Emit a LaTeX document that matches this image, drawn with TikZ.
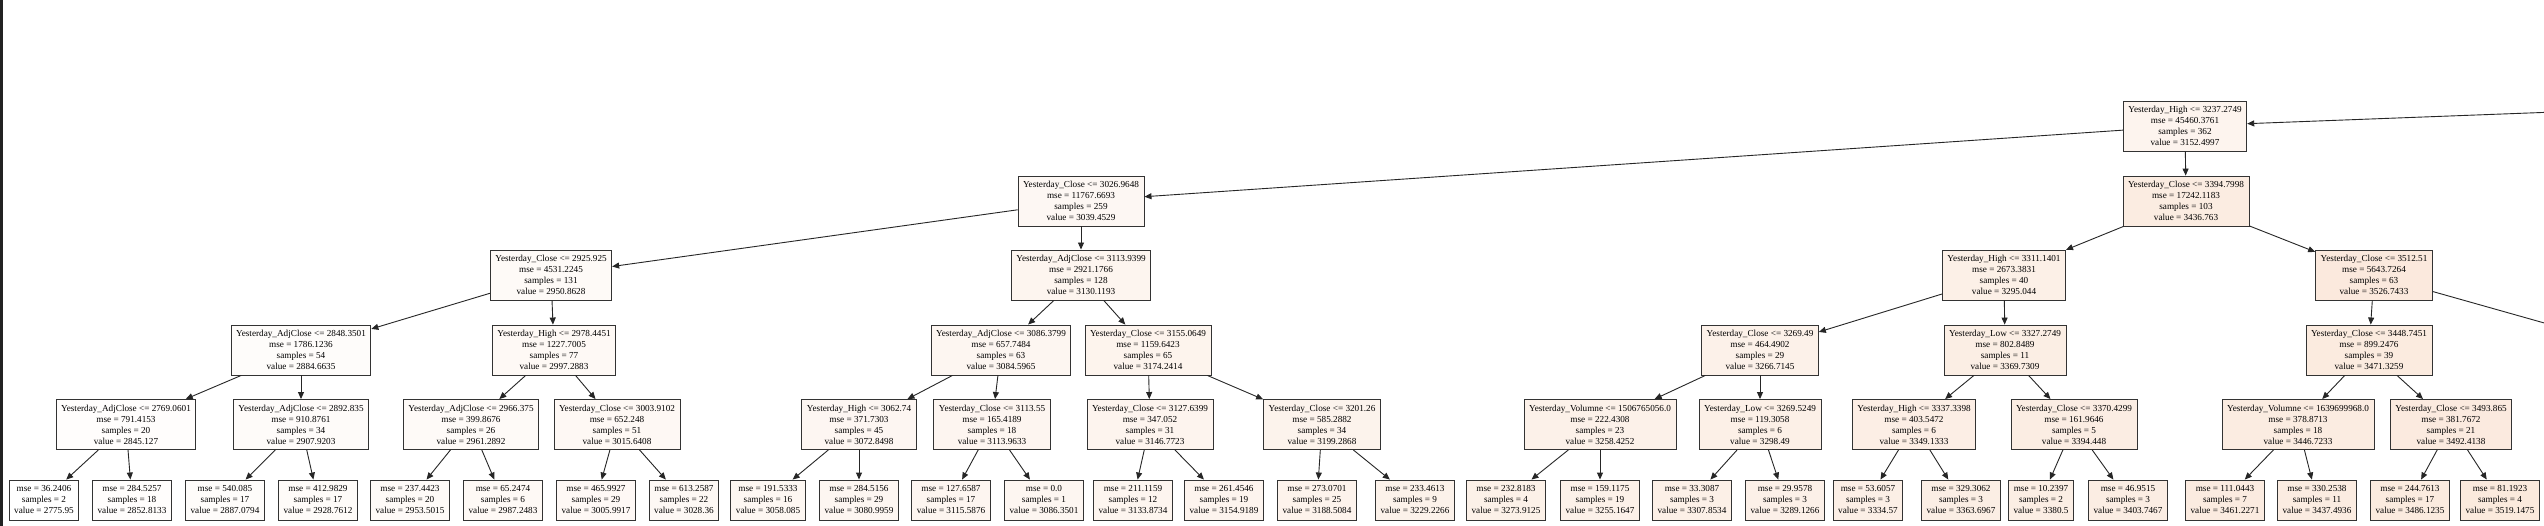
\documentclass[tikz,border=0pt]{standalone}
\usepackage{fontspec}
\newfontfamily\tnfam{Liberation Serif}
\usetikzlibrary{arrows.meta}
\definecolor{ob}{RGB}{229,129,57}
\definecolor{barcol}{RGB}{34,34,34}
\newcommand\dnode[7]{\node[tn,val=#7] (#1) at (#2,#3) {#4\\mse = #5\\samples = #6\\value = #7};}
\newcommand\lnode[5]{\node[lf,val=#5] (#1) at (#2,500) {mse = #3\\samples = #4\\value = #5};}
\tikzset{
  tn/.style={draw=black!80, line width=0.9pt, rectangle, align=center,
    inner xsep=5pt, inner ysep=0pt, minimum height=50pt,
    font=\tnfam\fontsize{9.2}{11}\selectfont},
  lf/.style={tn, minimum height=40pt},
  val/.code={\pgfmathsetmacro\fpct{max(0,(#1-2775.95)/43.7)}%
    \edef\tmpval{\noexpand\pgfkeysalso{fill=ob!\fpct!white}}\tmpval},
  edge/.style={draw=black!85, line width=0.9pt, -{Triangle[length=7pt,width=6pt]}}
}
\begin{document}
\begin{tikzpicture}[x=1pt,y=-1pt]
\useasboundingbox (0,0) rectangle (2544,526);
\fill[white] (0,0) rectangle (2544,526);
\clip (0,0) rectangle (2544,526);
\fill[barcol] (0,0) rectangle (2.5,526);
% internal nodes
\dnode{n0}{2185}{126}{Yesterday\_High <= 3237.2749}{45460.3761}{362}{3152.4997}
\dnode{n1}{1081}{201}{Yesterday\_Close <= 3026.9648}{11767.6693}{259}{3039.4529}
\dnode{n2}{2186}{201}{Yesterday\_Close <= 3394.7998}{17242.1183}{103}{3436.763}
\dnode{n3}{551}{275}{Yesterday\_Close <= 2925.925}{4531.2245}{131}{2950.8628}
\dnode{n4}{1081}{275}{Yesterday\_AdjClose <= 3113.9399}{2921.1766}{128}{3130.1193}
\dnode{n5}{2004}{275}{Yesterday\_High <= 3311.1401}{2673.3831}{40}{3295.044}
\dnode{n6}{2374}{275}{Yesterday\_Close <= 3512.51}{5643.7264}{63}{3526.7433}
\dnode{n7}{301}{350}{Yesterday\_AdjClose <= 2848.3501}{1786.1236}{54}{2884.6635}
\dnode{n8}{554}{350}{Yesterday\_High <= 2978.4451}{1227.7005}{77}{2997.2883}
\dnode{n9}{1001}{350}{Yesterday\_AdjClose <= 3086.3799}{657.7484}{63}{3084.5965}
\dnode{n10}{1148}{350}{Yesterday\_Close <= 3155.0649}{1159.6423}{65}{3174.2414}
\dnode{n11}{1760}{350}{Yesterday\_Close <= 3269.49}{464.4902}{29}{3266.7145}
\dnode{n12}{2005}{350}{Yesterday\_Low <= 3327.2749}{802.8489}{11}{3369.7309}
\dnode{n13}{2369}{350}{Yesterday\_Close <= 3448.7451}{899.2476}{39}{3471.3259}
\dnode{n14}{126}{424.5}{Yesterday\_AdjClose <= 2769.0601}{791.4153}{20}{2845.127}
\dnode{n15}{301}{424.5}{Yesterday\_AdjClose <= 2892.835}{910.8761}{34}{2907.9203}
\dnode{n16}{471}{424.5}{Yesterday\_AdjClose <= 2966.375}{399.8676}{26}{2961.2892}
\dnode{n17}{617}{424.5}{Yesterday\_Close <= 3003.9102}{652.248}{51}{3015.6408}
\dnode{n18}{859}{424.5}{Yesterday\_High <= 3062.74}{371.7303}{45}{3072.8498}
\dnode{n19}{992}{424.5}{Yesterday\_Close <= 3113.55}{165.4189}{18}{3113.9633}
\dnode{n20}{1150}{424.5}{Yesterday\_Close <= 3127.6399}{347.052}{31}{3146.7723}
\dnode{n21}{1322}{424.5}{Yesterday\_Close <= 3201.26}{585.2882}{34}{3199.2868}
\dnode{n22}{1600}{424.5}{Yesterday\_Volumne <= 1506765056.0}{222.4308}{23}{3258.4252}
\dnode{n23}{1760}{424.5}{Yesterday\_Low <= 3269.5249}{119.3058}{6}{3298.49}
\dnode{n24}{1914}{424.5}{Yesterday\_High <= 3337.3398}{403.5472}{6}{3349.1333}
\dnode{n25}{2074}{424.5}{Yesterday\_Close <= 3370.4299}{161.9646}{5}{3394.448}
\dnode{n26}{2298}{424.5}{Yesterday\_Volumne <= 1639699968.0}{378.8713}{18}{3446.7233}
\dnode{n27}{2451}{424.5}{Yesterday\_Close <= 3493.865}{381.7672}{21}{3492.4138}
% leaves
\lnode{l1}{44}{36.2406}{2}{2775.95}
\lnode{l2}{132}{284.5257}{18}{2852.8133}
\lnode{l3}{225}{540.085}{17}{2887.0794}
\lnode{l4}{318}{412.9829}{17}{2928.7612}
\lnode{l5}{410}{237.4423}{20}{2953.5015}
\lnode{l6}{503}{65.2474}{6}{2987.2483}
\lnode{l7}{596}{465.9927}{29}{3005.9917}
\lnode{l8}{684}{613.2587}{22}{3028.36}
\lnode{l9}{768}{191.5333}{16}{3058.085}
\lnode{l10}{859}{284.5156}{29}{3080.9959}
\lnode{l11}{951}{127.6587}{17}{3115.5876}
\lnode{l12}{1044}{0.0}{1}{3086.3501}
\lnode{l13}{1133}{211.1159}{12}{3133.8734}
\lnode{l14}{1224}{261.4546}{19}{3154.9189}
\lnode{l15}{1317}{273.0701}{25}{3188.5084}
\lnode{l16}{1415}{233.4613}{9}{3229.2266}
\lnode{l17}{1506}{232.8183}{4}{3273.9125}
\lnode{l18}{1600}{159.1175}{19}{3255.1647}
\lnode{l19}{1692}{33.3087}{3}{3307.8534}
\lnode{l20}{1785}{29.9578}{3}{3289.1266}
\lnode{l21}{1868}{53.6057}{3}{3334.57}
\lnode{l22}{1961}{329.3062}{3}{3363.6967}
\lnode{l23}{2041}{10.2397}{2}{3380.5}
\lnode{l24}{2128}{46.9515}{3}{3403.7467}
\lnode{l25}{2225}{111.0443}{7}{3461.2271}
\lnode{l26}{2317}{330.2538}{11}{3437.4936}
\lnode{l27}{2410}{244.7613}{17}{3486.1235}
\lnode{l28}{2500}{81.1923}{4}{3519.1475}
% off-picture ends
\coordinate (p0) at (4085,54);
\coordinate (h6) at (2640,350);
% edges
\draw[edge] (p0) -- (n0);
\draw[edge] (n0) -- (n1);
\draw[edge] (n0) -- (n2);
\draw[edge] (n1) -- (n3);
\draw[edge] (n1) -- (n4);
\draw[edge] (n2) -- (n5);
\draw[edge] (n2) -- (n6);
\draw[edge] (n3) -- (n7);
\draw[edge] (n3) -- (n8);
\draw[edge] (n4) -- (n9);
\draw[edge] (n4) -- (n10);
\draw[edge] (n5) -- (n11);
\draw[edge] (n5) -- (n12);
\draw[edge] (n6) -- (n13);
\draw[edge] (n6) -- (h6);
\draw[edge] (n7) -- (n14);
\draw[edge] (n7) -- (n15);
\draw[edge] (n8) -- (n16);
\draw[edge] (n8) -- (n17);
\draw[edge] (n9) -- (n18);
\draw[edge] (n9) -- (n19);
\draw[edge] (n10) -- (n20);
\draw[edge] (n10) -- (n21);
\draw[edge] (n11) -- (n22);
\draw[edge] (n11) -- (n23);
\draw[edge] (n12) -- (n24);
\draw[edge] (n12) -- (n25);
\draw[edge] (n13) -- (n26);
\draw[edge] (n13) -- (n27);
\draw[edge] (n14) -- (l1);
\draw[edge] (n14) -- (l2);
\draw[edge] (n15) -- (l3);
\draw[edge] (n15) -- (l4);
\draw[edge] (n16) -- (l5);
\draw[edge] (n16) -- (l6);
\draw[edge] (n17) -- (l7);
\draw[edge] (n17) -- (l8);
\draw[edge] (n18) -- (l9);
\draw[edge] (n18) -- (l10);
\draw[edge] (n19) -- (l11);
\draw[edge] (n19) -- (l12);
\draw[edge] (n20) -- (l13);
\draw[edge] (n20) -- (l14);
\draw[edge] (n21) -- (l15);
\draw[edge] (n21) -- (l16);
\draw[edge] (n22) -- (l17);
\draw[edge] (n22) -- (l18);
\draw[edge] (n23) -- (l19);
\draw[edge] (n23) -- (l20);
\draw[edge] (n24) -- (l21);
\draw[edge] (n24) -- (l22);
\draw[edge] (n25) -- (l23);
\draw[edge] (n25) -- (l24);
\draw[edge] (n26) -- (l25);
\draw[edge] (n26) -- (l26);
\draw[edge] (n27) -- (l27);
\draw[edge] (n27) -- (l28);
\end{tikzpicture}
\end{document}
